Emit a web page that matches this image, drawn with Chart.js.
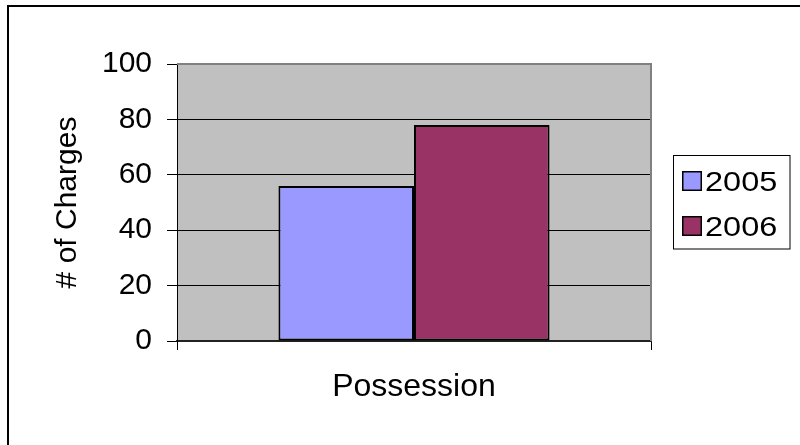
<!DOCTYPE html>
<html>
<head>
<meta charset="utf-8">
<title># of Charges – Possession</title>
<script src="https://cdn.jsdelivr.net/npm/chart.js@4/dist/chart.umd.min.js"></script>
<style>
  html, body { margin: 0; padding: 0; background: #fff; overflow: hidden; }
  #wrap { position: relative; width: 800px; height: 445px; }
  #frame {
    position: absolute; left: 7px; top: 5px; width: 900px; height: 500px;
    border-left: 2px solid #000; border-top: 2px solid #000;
    pointer-events: none;
  }
  canvas { position: absolute; left: 0; top: 0; }
</style>
</head>
<body>
<div id="wrap">
  <canvas id="chart" width="800" height="445"></canvas>
  <div id="frame"></div>
</div>
<script>
// Data
const categories = ['Possession'];
const seriesLabels = ['2005', '2006'];
const values2005 = [56];
const values2006 = [78];
const yTicks = [0, 20, 40, 60, 80, 100];

const FONT = '"Liberation Sans", Arial, sans-serif';
const PLOT_BG = '#C0C0C0';
const PLOT_EDGE = '#808080';

// Gray plot area with its gray frame (Excel style)
const plotBackground = {
  id: 'plotBackground',
  beforeDraw(chart) {
    const { ctx, chartArea: a } = chart;
    ctx.save();
    ctx.fillStyle = PLOT_BG;
    ctx.fillRect(a.left, a.top, a.right - a.left, a.bottom - a.top);
    ctx.restore();
  },
  beforeDatasetsDraw(chart) {
    const { ctx, chartArea: a } = chart;
    ctx.save();
    ctx.strokeStyle = PLOT_EDGE;
    ctx.lineWidth = 2;
    ctx.beginPath();
    ctx.moveTo(a.left, a.top);
    ctx.lineTo(a.right, a.top);
    ctx.lineTo(a.right, a.bottom);
    ctx.stroke();
    ctx.restore();
  }
};

// Boxed legend on the right, built from the datasets
const boxedLegend = {
  id: 'boxedLegend',
  afterDraw(chart) {
    const { ctx } = chart;
    const box = { x: 673.5, y: 155.5, w: 116.5, h: 93.5 };
    ctx.save();
    ctx.fillStyle = '#fff';
    ctx.fillRect(box.x, box.y, box.w, box.h);
    ctx.strokeStyle = '#000';
    ctx.lineWidth = 1;
    ctx.strokeRect(box.x, box.y, box.w, box.h);
    chart.data.datasets.forEach((ds, i) => {
      const top = 171 + i * 45;
      ctx.fillStyle = ds.backgroundColor;
      ctx.fillRect(682, top, 20, 20);
      ctx.strokeStyle = '#000';
      ctx.lineWidth = 1.5;
      ctx.strokeRect(682.75, top + 0.75, 18.5, 18.5);
      ctx.fillStyle = '#000';
      ctx.font = '28px ' + FONT;
      ctx.textBaseline = 'alphabetic';
      ctx.textAlign = 'left';
      ctx.save();
      ctx.translate(705, top + 20);
      ctx.scale(1.16, 1);
      ctx.fillText(ds.label, 0, 0);
      ctx.restore();
    });
    ctx.restore();
  }
};

new Chart(document.getElementById('chart'), {
  type: 'bar',
  data: {
    labels: categories,
    datasets: [
      {
        label: seriesLabels[0],
        data: values2005,
        backgroundColor: '#9999FF',
        borderColor: '#000',
        borderWidth: 2,
        borderSkipped: false
      },
      {
        label: seriesLabels[1],
        data: values2006,
        backgroundColor: '#993366',
        borderColor: '#000',
        borderWidth: 2,
        borderSkipped: false
      }
    ]
  },
  options: {
    responsive: false,
    animation: false,
    events: [],
    layout: { padding: { left: 10, top: 64, right: 149, bottom: 0 } },
    datasets: {
      bar: { categoryPercentage: 0.572, barPercentage: 1.0 }
    },
    plugins: {
      legend: { display: false },
      tooltip: { enabled: false },
      title: { display: false }
    },
    scales: {
      x: {
        offset: true,
        grid: {
          offset: true,
          drawOnChartArea: false,
          drawTicks: true,
          tickLength: 9,
          tickColor: '#000',
          tickWidth: 1
        },
        border: { display: true, color: '#222', width: 2 },
        ticks: {
          color: '#000',
          font: { family: FONT, size: 32 },
          padding: 18,
          maxRotation: 0
        },
        afterFit(scale) { scale.height = 104; }
      },
      y: {
        min: 0,
        max: 100,
        afterBuildTicks(scale) {
          scale.ticks = yTicks.map(v => ({ value: v }));
        },
        grid: {
          color: (c) => (c.tick && (c.tick.value === 0 || c.tick.value === 100)) ? 'rgba(0,0,0,0)' : '#000',
          lineWidth: 1,
          drawTicks: true,
          tickLength: 10,
          tickColor: '#000',
          tickWidth: 1
        },
        border: { display: true, color: '#000', width: 1 },
        ticks: {
          color: '#000',
          font: { family: FONT, size: 30 },
          padding: 15
        },
        title: {
          display: true,
          text: '# of Charges',
          color: '#000',
          font: { family: FONT, size: 30 },
          padding: { top: 40, bottom: 0 }
        },
        afterFit(scale) { scale.width = 167; }
      }
    }
  },
  plugins: [plotBackground, boxedLegend]
});
</script>
</body>
</html>
